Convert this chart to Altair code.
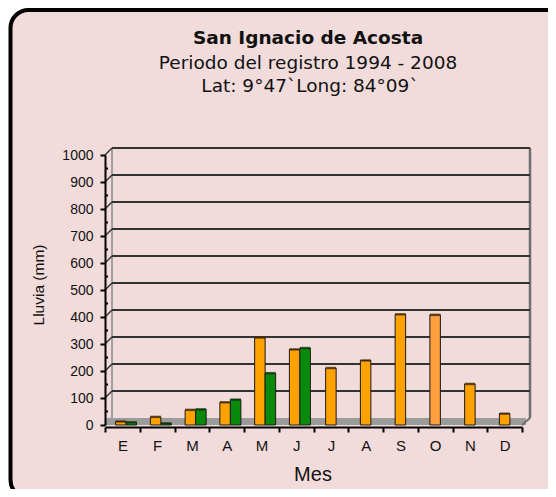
import altair as alt
import pandas as pd

# ---- data ----
months = ["Enero", "Febrero", "Marzo", "Abril", "Mayo", "Junio", "Julio",
          "Agosto", "Septiembre", "Octubre", "Noviembre", "Diciembre"]
month_letters = ["E", "F", "M", "A", "M", "J", "J", "A", "S", "O", "N", "D"]
lluvia_naranja = [13, 30, 56, 84, 324, 280, 211, 239, 410, 408, 152, 42]
lluvia_verde = [10, 6, 58, 94, 192, 285, None, None, None, None, None, None]
y_ticks = [0, 100, 200, 300, 400, 500, 600, 700, 800, 900, 1000]
grid_values = [100, 200, 300, 400, 500, 600, 700, 800, 900, 1000]
minor_ticks = [50, 150, 250, 350, 450, 550, 650, 750, 850, 950]

title_text = "San Ignacio de Acosta"
subtitle_1 = "Periodo del registro 1994 - 2008"
subtitle_2 = "Lat: 9°47`Long: 84°09`"
x_title = "Mes"
y_title = "Lluvia (mm)"

# ---- style ----
PINK = "#F2DCDB"
ORANGE = "#FFA200"
ORANGE_ALT = "#FF9E3E"
GREEN = "#0A8A0A"
W, H = 417, 270

df = pd.DataFrame({"mes": months, "naranja": lluvia_naranja, "verde": lluvia_verde})
one = pd.DataFrame({"k": [0]})

letters_js = "[" + ",".join("'" + l + "'" for l in month_letters) + "]"
months_js = "[" + ",".join("'" + m + "'" for m in months) + "]"
label_expr = f"{letters_js}[indexof({months_js}, datum.value)]"

yscale = alt.Scale(domain=[0, 1000], nice=False)
xscale = alt.Scale(domain=months, paddingInner=0, paddingOuter=0)

xaxis = alt.Axis(title=None, labelExpr=label_expr, labelAngle=0, domainColor="black",
                 domainWidth=2, tickColor="black", tickWidth=2, tickSize=5,
                 tickBand="extent", labelFont="Liberation Sans", labelFontSize=15,
                 labelColor="#111", labelPadding=6, offset=2, zindex=1, grid=False)
yaxis = alt.Axis(title=None, values=y_ticks, format="d", grid=False, domainColor="black",
                 domainWidth=2, tickColor="black", tickWidth=2, tickSize=5,
                 labelFont="Liberation Sans", labelFontSize=14, labelColor="#111",
                 labelPadding=7, zindex=1)

X = alt.X("mes:N", sort=months, scale=xscale, axis=xaxis)

panel = alt.Chart(one).mark_rect(fill=PINK, stroke="black", strokeWidth=4,
                                 cornerRadius=18).encode(
    x=alt.value(-94.5), x2=alt.value(462), y=alt.value(-145), y2=alt.value(343))

floor = alt.Chart(one).mark_rect(fill="#9b9b9b").encode(
    x=alt.value(0), x2=alt.value(421), y=alt.value(H - 7), y2=alt.value(H))

left_wall = alt.Chart(one).mark_rule(color="#8a8a8a", strokeWidth=1.5).encode(
    x=alt.value(7), y=alt.value(-7), y2=alt.value(H - 7))
right_wall = alt.Chart(one).mark_rule(color="#6e6e6e", strokeWidth=2.5).encode(
    x=alt.value(W + 8), y=alt.value(-7), y2=alt.value(H - 7))
right_diag = alt.Chart(one).mark_rule(color="#6e6e6e", strokeWidth=2).encode(
    x=alt.value(W), x2=alt.value(W + 8), y=alt.value(H), y2=alt.value(H - 7))

gdf = pd.DataFrame({"v": grid_values})
grid = alt.Chart(gdf).mark_rule(color="#333333", strokeWidth=2.2, yOffset=-7).encode(
    y=alt.Y("v:Q", scale=yscale, axis=yaxis), x=alt.value(7), x2=alt.value(W + 8))
grid_diag = alt.Chart(gdf).mark_rule(color="#333333", strokeWidth=1.5, y2Offset=-7).encode(
    y=alt.Y("v:Q", scale=yscale, axis=yaxis), y2=alt.Y2("v:Q"),
    x=alt.value(0), x2=alt.value(7))

minor = alt.Chart(pd.DataFrame({"v": minor_ticks})).mark_rule(color="black", strokeWidth=2).encode(
    y=alt.Y("v:Q", scale=yscale, axis=yaxis), x=alt.value(0), x2=alt.value(3))

base = alt.Chart(df)
paired = base.transform_filter("isValid(datum.verde)")
single = base.transform_filter("!isValid(datum.verde)")

bar_o_pair = paired.mark_bar(width=10.5, xOffset=-1.5, fill=ORANGE, stroke="#1a1a1a",
                             strokeWidth=1).encode(
    x=X, y=alt.Y("naranja:Q", scale=yscale, axis=yaxis))
cap_o_pair = paired.mark_tick(size=10.5, thickness=2.5, xOffset=-1.5, color="#4a2e00").encode(
    x=X, y=alt.Y("naranja:Q", scale=yscale, axis=yaxis))
bar_g = paired.mark_bar(width=10.5, xOffset=9, fill=GREEN, stroke="#1a1a1a",
                        strokeWidth=1).encode(
    x=X, y=alt.Y("verde:Q", scale=yscale, axis=yaxis))
cap_g = paired.mark_tick(size=10.5, thickness=2.5, xOffset=9, color="#0c3a0c").encode(
    x=X, y=alt.Y("verde:Q", scale=yscale, axis=yaxis))
bar_o_single = single.mark_bar(width=10.5, stroke="#1a1a1a", strokeWidth=1).encode(
    x=X, y=alt.Y("naranja:Q", scale=yscale, axis=yaxis),
    fill=alt.condition("datum.mes == 'Octubre'", alt.value(ORANGE_ALT), alt.value(ORANGE)))
cap_o_single = single.mark_tick(size=10.5, thickness=2.5, color="#4a2e00").encode(
    x=X, y=alt.Y("naranja:Q", scale=yscale, axis=yaxis))

def txt(s, x, y, size, weight="normal", font="DejaVu Sans", angle=0, baseline="alphabetic"):
    return alt.Chart(pd.DataFrame({"t": [s]})).mark_text(
        font=font, fontSize=size, fontWeight=weight, color="#111", align="center",
        baseline=baseline, angle=angle).encode(
        text="t:N", x=alt.value(x), y=alt.value(y))

t1 = txt(title_text, 203, -111, 18.5, weight="bold")
t2 = txt(subtitle_1, 203, -86, 18.5)
t3 = txt(subtitle_2, 205, -63, 18.5)
ty = txt(y_title, -66, 130, 15.5, font="Liberation Sans", angle=270, baseline="middle")
tx = txt(x_title, 208, 320, 20, font="Liberation Sans Narrow, Liberation Sans", baseline="middle")

chart = alt.layer(
    panel, floor, left_wall, right_wall, right_diag, grid, grid_diag, minor,
    bar_o_pair, bar_g, bar_o_single, cap_o_pair, cap_g, cap_o_single,
    t1, t2, t3, ty, tx
).properties(
    width=W, height=H,
    padding={"left": 97, "top": 147, "right": 26, "bottom": 64},
    autosize=alt.AutoSizeParams(type="none"),
    background="white"
).configure_view(strokeWidth=0, fill=None)

chart.save("out.html", embed_options={"renderer": "svg", "actions": False})
